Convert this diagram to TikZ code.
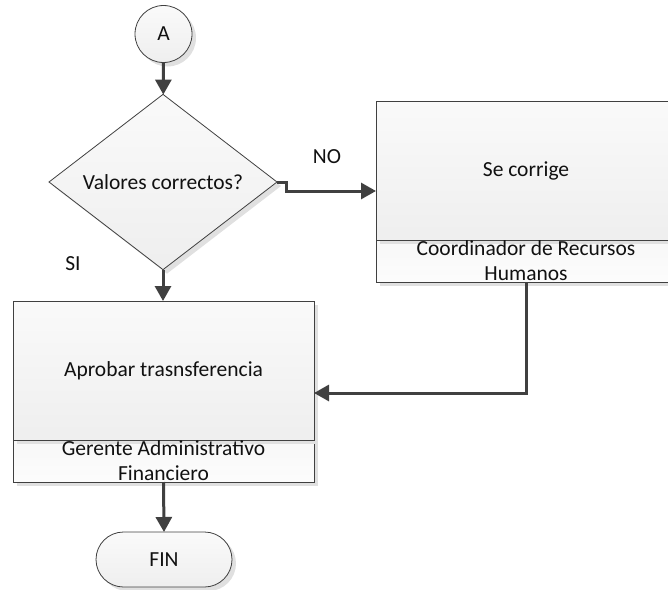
\documentclass[tikz,border=0pt]{standalone}
\usepackage{fontspec}
\setmainfont{Carlito}
\usetikzlibrary{arrows.meta,shapes.geometric,shadows}

\definecolor{edge}{HTML}{404040}
\definecolor{ink}{HTML}{111111}

\begin{document}
\begin{tikzpicture}[x=1pt,y=-1pt,
  txt/.style={text=ink, font=\fontsize{21.5}{25}\selectfont},
  shape base/.style={txt, draw=edge, line width=0.8pt, inner sep=0pt, outer sep=0pt,
    top color=white!98!black, bottom color=white!93.5!black,
    drop shadow={shadow xshift=4pt, shadow yshift=-4pt, fill=black!12, opacity=1}},
  connector/.style={shape base, circle, minimum size=57pt},
  decision/.style={shape base, diamond, minimum width=228pt, minimum height=137pt},
  process/.style={shape base, rectangle, minimum height=139pt},
  lane/.style={shape base, rectangle, minimum height=42pt,
    top color=white!97!black, bottom color=white!99!black},
  lanetext/.style={txt, align=center, inner sep=0pt},
  terminal/.style={shape base, rectangle, rounded corners=27.5pt, minimum width=136pt, minimum height=55pt},
  lbl/.style={txt, inner sep=0pt},
  flow/.style={draw=edge, line width=3pt, -{Triangle[length=15pt,width=16pt]}}
]
\useasboundingbox (0,0) rectangle (668,589);

% start connector and decision
\node[connector] (a) at (163.5,34) {A};
\node[decision] (q) at (163,182) {Valores correctos?};

% correction task (extends past the right border)
\node[lane, minimum width=300pt] (fixlane) at (526,261) {};
\node[process, minimum width=300pt] (fix) at (526,170.5) {Se corrige};
\node[lanetext] (fixrole) at (fixlane) {Coordinador de Recursos\\Humanos};

% approval task
\node[lane, minimum width=301pt] (oklane) at (163.5,461) {};
\node[process, minimum width=301pt] (ok) at (163.5,370.5) {Aprobar trasnsferencia};
\node[lanetext] (okrole) at (oklane) {Gerente Administrativo\\Financiero};

% end
\node[terminal] (fin) at (164,559.5) {FIN};

% branch labels
\node[lbl] (no) at (327,157) {NO};
\node[lbl] (si) at (73,264) {SI};

% connectors
\coordinate (nobend) at (286,191);
\coordinate (back) at (526,393);
\draw[flow] (a) -- (q);
\draw[flow] (q.east) -| (nobend) -- (nobend -| fix.west);
\draw[flow] (q.south) -- (q.south |- ok.north);
\draw[flow] (fixlane.south) |- (back -| ok.east);
\draw[flow] (oklane.south) -- (fin.north);
\end{tikzpicture}
\end{document}
